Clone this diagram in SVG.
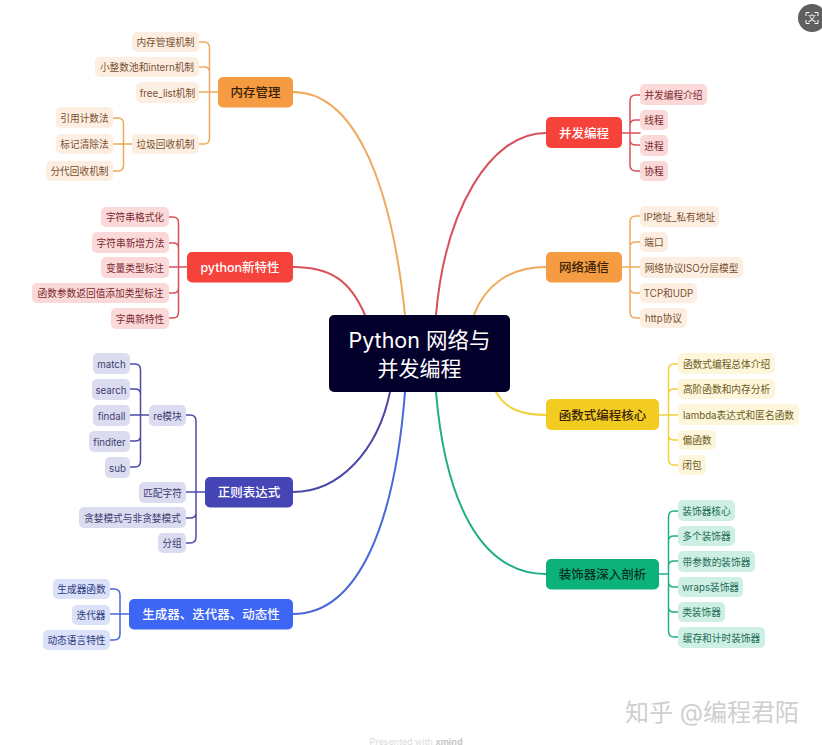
<svg xmlns="http://www.w3.org/2000/svg" width="822" height="745" viewBox="0 0 822 745">
<style>
text{font-family:"Inter","Noto Sans CJK SC","Noto Sans",sans-serif;text-anchor:middle;dominant-baseline:central}
.m{font-size:12.5px;font-weight:500}
.s{font-size:9.7px}
.w{fill:#fff}.k{fill:#3a1f08}
.l{fill:none;stroke-width:1.5;stroke-linecap:round}
.big{fill:none;stroke-width:2;stroke-linecap:round}
.o{stroke:#eeaa5e}.r{stroke:#d9505a}.i{stroke:#4c49a8}.b{stroke:#4a68d8}.y{stroke:#f0d23e}.g{stroke:#1fae88}
.co rect{fill:#fdeee2}.co text{fill:#7a5030}
.cr rect{fill:#fbd9d8}.cr text{fill:#7a2a30}
.ci rect{fill:#dcdcf0}.ci text{fill:#3d3d70}
.cb rect{fill:#dae1f8}.cb text{fill:#2c3a80}
.cy rect{fill:#fdf6da}.cy text{fill:#6b5a20}
.cg rect{fill:#cef0e4}.cg text{fill:#1f6b55}
</style>
<rect width="822" height="745" fill="#fff"/>
<g id="connectors">
<path class="big o" d="M293 92C350 92 390 170 405 315"/>
<path class="big r" d="M293 267C330 267 350 280 365 315"/>
<path class="big i" d="M293 492C340 492 378 450 390 392"/>
<path class="big b" d="M293 614C360 614 395 520 405 392"/>
<path class="big r" d="M546 133C490 133 445 210 436 315"/>
<path class="big o" d="M546 267C510 267 485 285 474 315"/>
<path class="big y" d="M546 415C520 415 505 408 496 392"/>
<path class="big g" d="M546 574C480 574 445 500 436 392"/>
<path class="l o" d="M218 92H199M199 42H204Q209.5 42 209.5 48V138Q209.5 144 204 144H199M199 67H204Q209.5 67 209.5 72"/>
<path class="l o" d="M132 144H113M113 118H118Q123.500 118 123.500 124V165Q123.500 171 118 171H113"/>
<path class="l r" d="M187 267H169M169 217H173Q178.500 217 178.500 223V312Q178.500 318 173 318H169M169 243H173Q178.500 243 178.500 248M169 293H173Q178.500 293 178.500 288"/>
<path class="l i" d="M149 415H130M130 364H135Q140.500 364 140.500 370V461Q140.500 467 135 467H130M130 389H135Q140.500 389 140.500 394M130 441H135Q140.500 441 140.500 436"/>
<path class="l i" d="M205 492H186M186 415H190Q196 415 196 421V537Q196 543 190 543H186M186 518H190Q196 518 196 513"/>
<path class="l b" d="M129 614H110M110 589H114Q120 589 120 595V634Q120 640 114 640H110"/>
<path class="l r" d="M622 133H640M640 95H636Q630 95 630 101V165Q630 171 636 171H640M640 120H636Q630 120 630 125M640 145H636Q630 145 630 140"/>
<path class="l o" d="M622 267H640M640 216H636Q630 216 630 222V312Q630 318 636 318H640M640 242H636Q630 242 630 247M640 293H636Q630 293 630 288"/>
<path class="l y" d="M659 415H678M678 364H674Q668.500 364 668.500 370V459Q668.500 465 674 465H678M678 389H674Q668.500 389 668.500 394M678 440H674Q668.500 440 668.500 435"/>
<path class="l g" d="M659 574H668.500M678 511H674Q668.500 511 668.500 517V631Q668.500 637 674 637H678M678 536H674Q668.500 536 668.500 541M678 561H674Q668.500 561 668.500 566M678 587H674Q668.500 587 668.500 582M678 612H674Q668.500 612 668.500 607"/>
</g>
<g id="root"><rect x="329" y="315" width="181" height="77" rx="5" fill="#03002b"/><text x="419.500" y="340" font-size="21.500" fill="#fff">Python 网络与</text><text x="419.500" y="368" font-size="21" fill="#fff">并发编程</text></g>
<g id="mem"><rect x="218" y="77" width="75" height="30.500" rx="5" fill="#f59b42"/><text class="m k" x="255.500" y="92.500">内存管理</text></g>
<g id="pynew"><rect x="187" y="252" width="106" height="30.500" rx="5" fill="#f5423a"/><text class="m w" x="240" y="267.500">python新特性</text></g>
<g id="regex"><rect x="205" y="477" width="88" height="30.500" rx="5" fill="#4645b5"/><text class="m w" x="249" y="492.500">正则表达式</text></g>
<g id="gen"><rect x="129" y="599" width="164" height="30.500" rx="5" fill="#3e66f5"/><text class="m w" x="211" y="614.500">生成器、迭代器、动态性</text></g>
<g id="conc"><rect x="546" y="117" width="76" height="31" rx="5" fill="#f5423a"/><text class="m w" x="584" y="133">并发编程</text></g>
<g id="net"><rect x="546" y="252" width="76" height="30.500" rx="5" fill="#f59b42"/><text class="m k" x="584" y="267.500">网络通信</text></g>
<g id="func"><rect x="546" y="399" width="113" height="31" rx="5" fill="#f2cc21"/><text class="m k" x="602.500" y="415">函数式编程核心</text></g>
<g id="deco"><rect x="546" y="559" width="113" height="30.500" rx="5" fill="#0db27a"/><text class="m" fill="#07301f" x="602.500" y="574.500">装饰器深入剖析</text></g>
<g class="co s">
<g id="m1"><rect x="132" y="32" width="67" height="20" rx="5"/><text x="165.500" y="42.500">内存管理机制</text></g>
<g id="m2"><rect x="95" y="57" width="104" height="20" rx="5"/><text x="147" y="67.500">小整数池和intern机制</text></g>
<g id="m3"><rect x="136" y="82" width="63" height="21" rx="5"/><text x="167.500" y="93">free_list机制</text></g>
<g id="m4"><rect x="132" y="134" width="67" height="20" rx="5"/><text x="165.500" y="144.500">垃圾回收机制</text></g>
<g id="m41"><rect x="56" y="107" width="57" height="21" rx="5"/><text x="84.500" y="118">引用计数法</text></g>
<g id="m42"><rect x="56" y="134" width="57" height="20" rx="5"/><text x="84.500" y="144.500">标记清除法</text></g>
<g id="m43"><rect x="46" y="161" width="67" height="20" rx="5"/><text x="79.500" y="171.500">分代回收机制</text></g>
<g id="n1"><rect x="640" y="206" width="79" height="21" rx="5"/><text x="679.500" y="217">IP地址_私有地址</text></g>
<g id="n2"><rect x="640" y="232" width="28" height="20" rx="5"/><text x="654" y="242.500">端口</text></g>
<g id="n3"><rect x="640" y="257" width="103" height="21" rx="5"/><text x="691.500" y="268">网络协议ISO分层模型</text></g>
<g id="n4"><rect x="640" y="283" width="57" height="20" rx="5"/><text x="668.500" y="293.500">TCP和UDP</text></g>
<g id="n5"><rect x="640" y="308" width="47" height="20" rx="5"/><text x="663.500" y="318.500">http协议</text></g>
</g>
<g class="cr s">
<g id="p1"><rect x="101" y="207" width="68" height="20" rx="5"/><text x="135" y="217.500">字符串格式化</text></g>
<g id="p2"><rect x="92" y="232" width="77" height="21" rx="5"/><text x="130.500" y="243">字符串新增方法</text></g>
<g id="p3"><rect x="101" y="257" width="68" height="21" rx="5"/><text x="135" y="268">变量类型标注</text></g>
<g id="p4"><rect x="32" y="283" width="137" height="20" rx="5"/><text x="100.500" y="293.500">函数参数返回值添加类型标注</text></g>
<g id="p5"><rect x="111" y="308" width="58" height="21" rx="5"/><text x="140" y="319">字典新特性</text></g>
<g id="c1"><rect x="640" y="84" width="67" height="21" rx="5"/><text x="673.500" y="95">并发编程介绍</text></g>
<g id="c2"><rect x="640" y="110" width="28" height="20" rx="5"/><text x="654" y="120.500">线程</text></g>
<g id="c3"><rect x="640" y="135" width="28" height="21" rx="5"/><text x="654" y="146">进程</text></g>
<g id="c4"><rect x="640" y="161" width="28" height="20" rx="5"/><text x="654" y="171.500">协程</text></g>
</g>
<g class="ci s">
<g id="r1"><rect x="149" y="405" width="37" height="21" rx="5"/><text x="167.500" y="416">re模块</text></g>
<g id="r2"><rect x="139" y="482" width="47" height="21" rx="5"/><text x="162.500" y="493">匹配字符</text></g>
<g id="r3"><rect x="79" y="507" width="107" height="21" rx="5"/><text x="132.500" y="518">贪婪模式与非贪婪模式</text></g>
<g id="r4"><rect x="158" y="533" width="28" height="20" rx="5"/><text x="172" y="543.500">分组</text></g>
<g id="r11"><rect x="93" y="353" width="37" height="21" rx="5"/><text x="111.500" y="364">match</text></g>
<g id="r12"><rect x="92" y="379" width="38" height="21" rx="5"/><text x="111" y="390">search</text></g>
<g id="r13"><rect x="93" y="405" width="37" height="21" rx="5"/><text x="111.500" y="416">findall</text></g>
<g id="r14"><rect x="89" y="431" width="41" height="21" rx="5"/><text x="109.500" y="442">finditer</text></g>
<g id="r15"><rect x="105" y="457" width="25" height="21" rx="5"/><text x="117.500" y="468">sub</text></g>
</g>
<g class="cb s">
<g id="g1"><rect x="53" y="579" width="57" height="20" rx="5"/><text x="81.500" y="589.500">生成器函数</text></g>
<g id="g2"><rect x="72" y="605" width="38" height="20" rx="5"/><text x="91" y="615.500">迭代器</text></g>
<g id="g3"><rect x="43" y="630" width="67" height="20" rx="5"/><text x="76.500" y="640.500">动态语言特性</text></g>
</g>
<g class="cy s">
<g id="f1"><rect x="678" y="353" width="97" height="21" rx="5"/><text x="726.500" y="364">函数式编程总体介绍</text></g>
<g id="f2"><rect x="678" y="379" width="97" height="20" rx="5"/><text x="726.500" y="389.500">高阶函数和内存分析</text></g>
<g id="f3"><rect x="678" y="404" width="121" height="21" rx="5"/><text x="738.500" y="415">lambda表达式和匿名函数</text></g>
<g id="f4"><rect x="678" y="430" width="38" height="20" rx="5"/><text x="697" y="440.500">偏函数</text></g>
<g id="f5"><rect x="678" y="455" width="28" height="20" rx="5"/><text x="692" y="465.500">闭包</text></g>
</g>
<g class="cg s">
<g id="d1"><rect x="678" y="500" width="57" height="21" rx="5"/><text x="706.500" y="511">装饰器核心</text></g>
<g id="d2"><rect x="678" y="526" width="57" height="20" rx="5"/><text x="706.500" y="536.500">多个装饰器</text></g>
<g id="d3"><rect x="678" y="551" width="77" height="21" rx="5"/><text x="716.500" y="562">带参数的装饰器</text></g>
<g id="d4"><rect x="678" y="577" width="65" height="20" rx="5"/><text x="710.500" y="587.500">wraps装饰器</text></g>
<g id="d5"><rect x="678" y="602" width="47" height="20" rx="5"/><text x="701.500" y="612.500">类装饰器</text></g>
<g id="d6"><rect x="678" y="627" width="87" height="21" rx="5"/><text x="721.500" y="638">缓存和计时装饰器</text></g>
</g>
<g id="icon"><circle cx="812" cy="18" r="14" fill="#5f5f5f"/><path d="M806 16V12.500H809.500M814.500 12.500H818V16M818 20V23.500H814.500M809.500 23.500H806V20" fill="none" stroke="#fff" stroke-width="1"/><text x="812" y="18" font-size="8.500" fill="#fff">文</text></g>
<text x="712" y="712" font-size="24" fill="#cfcfcf">知乎 @编程君陌</text>
<text x="416" y="741" font-size="9" fill="#dcdcdc">Presented with <tspan font-weight="700" fill="#c8c8c8">xmind</tspan></text>
</svg>
